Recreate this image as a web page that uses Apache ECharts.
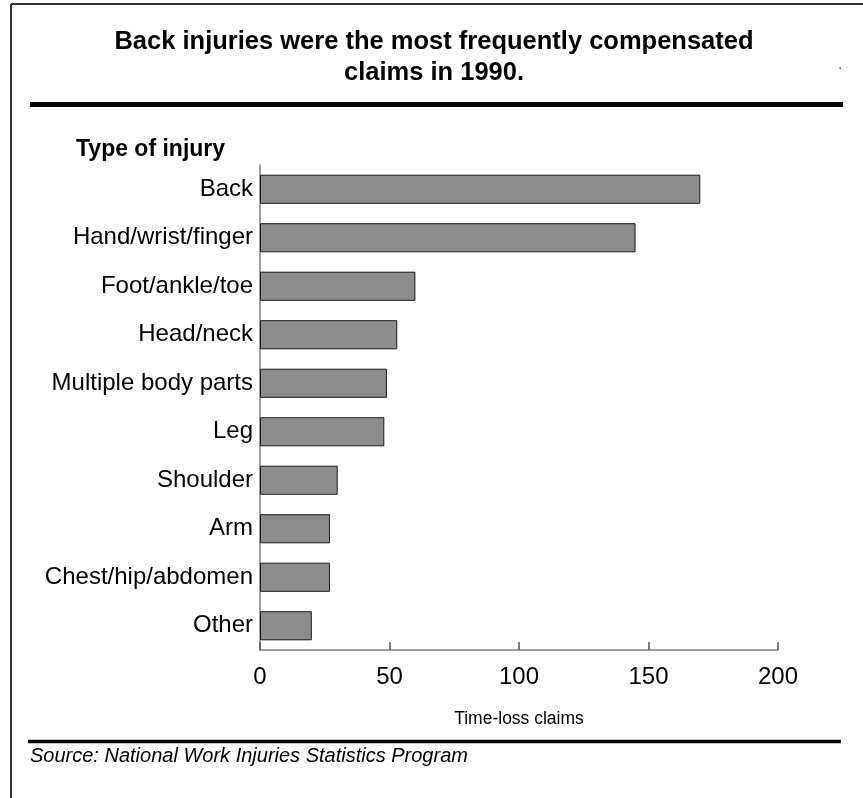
<!DOCTYPE html>
<html>
<head>
<meta charset="utf-8">
<style>
  html, body { margin: 0; padding: 0; background: #ffffff; }
  #chart { width: 863px; height: 798px; }
</style>
<script src="https://cdn.jsdelivr.net/npm/echarts@6/dist/echarts.min.js"></script>
</head>
<body>
<div id="chart"></div>
<script>
// Injury categories, listed top to bottom
const injuryTypes = [
  'Back',
  'Hand/wrist/finger',
  'Foot/ankle/toe',
  'Head/neck',
  'Multiple body parts',
  'Leg',
  'Shoulder',
  'Arm',
  'Chest/hip/abdomen',
  'Other'
];
// Time-loss claims per category
const claims = [170, 145, 60, 53, 49, 48, 30, 27, 27, 20];
// Value axis ticks
const claimTicks = [0, 50, 100, 150, 200];

const titleLines = ['Back injuries were the most frequently compensated', 'claims in 1990.'];
const categoryHeading = 'Type of injury';
const valueAxisName = 'Time-loss claims';
const sourceNote = 'Source: National Work Injuries Statistics Program';

const FONT = '"Liberation Sans", Arial, Helvetica, sans-serif';

const chart = echarts.init(document.getElementById('chart'), null, { renderer: 'canvas' });

chart.setOption({
  backgroundColor: '#ffffff',
  animation: false,
  grid: { left: 260, right: 85, top: 165, bottom: 148, containLabel: false },
  xAxis: {
    type: 'value',
    min: claimTicks[0],
    max: claimTicks[claimTicks.length - 1],
    interval: claimTicks[1] - claimTicks[0],
    name: valueAxisName,
    nameLocation: 'middle',
    nameGap: 60,
    nameTextStyle: { fontFamily: FONT, fontSize: 17.5, color: '#000' },
    axisLine: { show: true, lineStyle: { color: '#808080', width: 1.5 } },
    axisTick: { show: true, inside: true, length: 8, lineStyle: { color: '#555', width: 1.5 } },
    axisLabel: { fontFamily: FONT, fontSize: 24, color: '#000', margin: 15 },
    splitLine: { show: false }
  },
  yAxis: {
    type: 'category',
    data: injuryTypes,
    inverse: true,
    axisLine: { show: true, lineStyle: { color: '#808080', width: 1.5 } },
    axisTick: { show: false },
    axisLabel: { fontFamily: FONT, fontSize: 24, color: '#000', margin: 7 },
    splitLine: { show: false }
  },
  series: [{
    type: 'bar',
    data: claims,
    barWidth: '60%',
    itemStyle: { color: '#8c8c8c', borderColor: '#1a1a1a', borderWidth: 1 },
    silent: true
  }],
  graphic: [
    // frame: top and left edges
    { type: 'line', shape: { x1: 11, y1: 4, x2: 863, y2: 4 }, style: { stroke: '#333', lineWidth: 2 } },
    { type: 'line', shape: { x1: 11, y1: 4, x2: 11, y2: 798 }, style: { stroke: '#333', lineWidth: 2 } },
    // heading
    { type: 'text', x: 434, y: 42, style: { text: titleLines[0], font: 'bold 25.5px ' + FONT, fill: '#000', textAlign: 'center', textVerticalAlign: 'middle' } },
    { type: 'text', x: 434, y: 73, style: { text: titleLines[1], font: 'bold 25.5px ' + FONT, fill: '#000', textAlign: 'center', textVerticalAlign: 'middle' } },
    { type: 'rect', shape: { x: 839.5, y: 67.5, width: 1.5, height: 1.5 }, style: { fill: '#444' } },
    // rule under heading
    { type: 'line', shape: { x1: 30, y1: 104.5, x2: 843, y2: 104.5 }, style: { stroke: '#000', lineWidth: 5 } },
    // category axis heading
    { type: 'text', x: 76, y: 150, style: { text: categoryHeading, font: 'bold 23px ' + FONT, fill: '#000', textAlign: 'left', textVerticalAlign: 'middle' } },
    // rule above source
    { type: 'line', shape: { x1: 28, y1: 741.5, x2: 841, y2: 741.5 }, style: { stroke: '#000', lineWidth: 3.5 } },
    { type: 'text', x: 30, y: 756, style: { text: sourceNote, font: 'italic 20px ' + FONT, fill: '#000', textAlign: 'left', textVerticalAlign: 'middle' } }
  ]
});
</script>
</body>
</html>
